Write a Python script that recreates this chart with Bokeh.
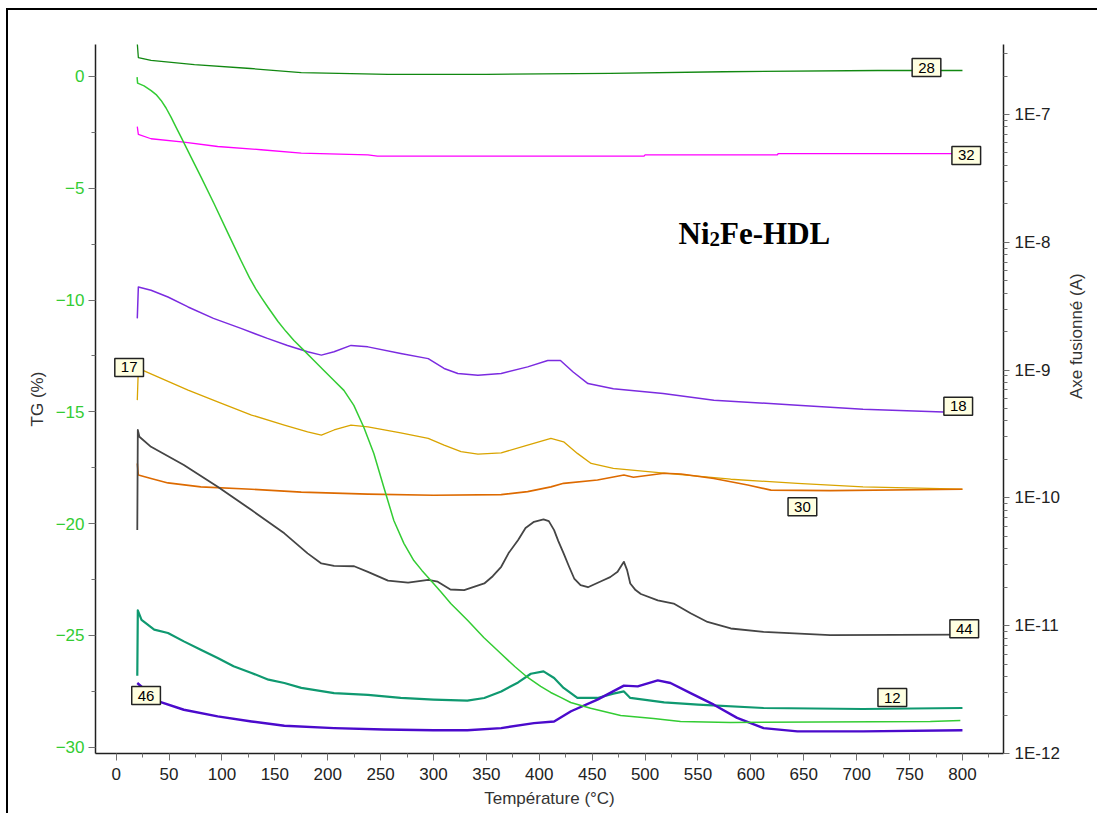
import math
from bokeh.plotting import figure
from bokeh.models import (Range1d, LogScale, LogAxis, FixedTicker,
                          CustomJSTickFormatter, Label)
from bokeh.embed import file_html
from bokeh.resources import INLINE

# ---------------- data ----------------
# TG curve (left axis, %)
tg_temp = [19.8, 20.3, 26.4, 33.1, 37.8, 42.5, 47.2, 51.9, 56.7, 61.4, 70.8, 80.3, 92.5, 105.8,
           118.0, 126.0, 132.0, 137.5, 143.5, 153.0, 160.5, 168.1, 177.5, 187.0, 196.4, 205.9,
           215.3, 224.7, 234.2, 243.6, 253.1, 262.5, 272.0, 281.4, 289.0, 297.5, 306.9, 316.3,
           332.4, 347.5, 363.6, 376.8, 389.0, 401.3, 410.8, 420.2, 429.7, 448.5, 476.9, 508.0,
           533.5, 580.7, 769.6, 798.0]
tg_val = [-0.03, -0.30, -0.42, -0.63, -0.81, -1.07, -1.41, -1.82, -2.28, -2.71, -3.61, -4.50,
          -5.68, -7.02, -8.23, -9.00, -9.50, -9.90, -10.32, -10.96, -11.40, -11.81, -12.25,
          -12.70, -13.15, -13.60, -14.04, -14.71, -15.70, -16.86, -18.38, -19.86, -20.88,
          -21.65, -22.09, -22.54, -23.05, -23.57, -24.33, -25.09, -25.81, -26.39, -26.88,
          -27.28, -27.55, -27.77, -28.00, -28.26, -28.58, -28.71, -28.85, -28.89, -28.85,
          -28.80]

# ion currents (right log axis, A)
m28_temp = [20, 21, 33, 74, 127, 175, 257, 350, 467, 574, 720, 800]
m28_val = [3.6e-7, 2.79e-7, 2.65e-7, 2.46e-7, 2.29e-7, 2.13e-7, 2.06e-7, 2.06e-7, 2.10e-7,
           2.16e-7, 2.21e-7, 2.21e-7]

m32_temp = [20, 21, 33, 64, 96, 137, 175, 238, 247, 499, 500, 625, 626, 800]
m32_val = [8.05e-8, 6.98e-8, 6.46e-8, 6.07e-8, 5.62e-8, 5.30e-8, 4.98e-8, 4.84e-8, 4.72e-8,
           4.72e-8, 4.84e-8, 4.84e-8, 4.95e-8, 4.95e-8]

m18_temp = [20, 21, 33, 49, 68, 92, 118, 143, 162, 181, 194, 206, 222, 238, 269, 295, 310,
            323, 342, 364, 389, 408, 420, 432, 446, 470, 517, 565, 644, 706, 782, 800]
m18_val = [2.54e-9, 4.47e-9, 4.21e-9, 3.73e-9, 3.12e-9, 2.54e-9, 2.12e-9, 1.77e-9, 1.56e-9,
           1.39e-9, 1.31e-9, 1.39e-9, 1.56e-9, 1.52e-9, 1.35e-9, 1.23e-9, 1.03e-9, 9.4e-10,
           9.1e-10, 9.4e-10, 1.06e-9, 1.19e-9, 1.19e-9, 9.66e-10, 7.84e-10, 7.16e-10,
           6.55e-10, 5.81e-10, 5.31e-10, 4.93e-10, 4.70e-10, 4.65e-10]

m17_temp = [20, 21, 68, 96, 128, 159, 181, 194, 206, 222, 238, 269, 295, 310, 326, 342, 364,
            389, 411, 423, 436, 449, 470, 518, 581, 644, 706, 800]
m17_val = [5.82e-10, 1.03e-9, 6.98e-10, 5.65e-10, 4.45e-10, 3.71e-10, 3.29e-10, 3.10e-10,
           3.40e-10, 3.71e-10, 3.60e-10, 3.23e-10, 2.92e-10, 2.59e-10, 2.30e-10, 2.20e-10,
           2.25e-10, 2.59e-10, 2.92e-10, 2.75e-10, 2.23e-10, 1.86e-10, 1.70e-10, 1.56e-10,
           1.40e-10, 1.30e-10, 1.22e-10, 1.17e-10]

m30_temp = [20, 21, 33, 49, 80, 128, 175, 238, 300, 364, 389, 411, 423, 455, 480, 489, 518,
            534, 565, 597, 619, 675, 800]
m30_val = [1.86e-10, 1.51e-10, 1.42e-10, 1.31e-10, 1.22e-10, 1.17e-10, 1.11e-10, 1.07e-10,
           1.05e-10, 1.06e-10, 1.12e-10, 1.22e-10, 1.30e-10, 1.38e-10, 1.51e-10, 1.45e-10,
           1.56e-10, 1.54e-10, 1.42e-10, 1.26e-10, 1.15e-10, 1.14e-10, 1.17e-10]

m44_temp = [20, 20.5, 22, 33, 64, 96, 128, 159, 181, 194, 206, 225, 238, 257, 276, 295, 304,
            316, 329, 348, 356, 364, 371, 380, 387, 395, 404, 409, 414, 418, 423, 428, 433,
            439, 446, 461, 467, 474, 478, 480, 483, 486, 491, 496, 512, 527, 543, 559, 581,
            612, 675, 800]
m44_val = [5.6e-11, 3.4e-10, 3.01e-10, 2.51e-10, 1.81e-10, 1.22e-10, 8.03e-11, 5.28e-11,
           3.68e-11, 3.07e-11, 2.94e-11, 2.92e-11, 2.64e-11, 2.25e-11, 2.17e-11, 2.28e-11,
           2.21e-11, 1.92e-11, 1.90e-11, 2.14e-11, 2.44e-11, 2.89e-11, 3.70e-11, 4.68e-11,
           5.81e-11, 6.50e-11, 6.79e-11, 6.58e-11, 5.60e-11, 4.59e-11, 3.68e-11, 2.92e-11,
           2.34e-11, 2.08e-11, 2.00e-11, 2.28e-11, 2.40e-11, 2.64e-11, 2.98e-11, 3.16e-11,
           2.72e-11, 2.14e-11, 1.90e-11, 1.77e-11, 1.58e-11, 1.49e-11, 1.25e-11, 1.07e-11,
           9.51e-12, 8.95e-12, 8.43e-12, 8.53e-12]

m12_temp = [20, 20.5, 24, 36, 49, 64, 80, 96, 111, 128, 144, 159, 175, 206, 238, 269, 300,
            332, 348, 364, 380, 392, 404, 414, 423, 436, 455, 470, 480, 486, 518, 550, 612,
            706, 800]
m12_val = [4.06e-12, 1.32e-11, 1.11e-11, 9.31e-12, 8.77e-12, 7.54e-12, 6.49e-12, 5.59e-12,
           4.81e-12, 4.27e-12, 3.78e-12, 3.56e-12, 3.26e-12, 2.97e-12, 2.88e-12, 2.72e-12,
           2.64e-12, 2.59e-12, 2.72e-12, 3.06e-12, 3.60e-12, 4.21e-12, 4.39e-12, 3.90e-12,
           3.26e-12, 2.72e-12, 2.72e-12, 2.94e-12, 3.06e-12, 2.72e-12, 2.51e-12, 2.41e-12,
           2.27e-12, 2.23e-12, 2.27e-12]

m46_temp = [20, 40, 64, 96, 128, 159, 206, 253, 300, 332, 364, 395, 414, 430, 455, 480, 493,
            512, 524, 543, 565, 587, 612, 644, 706, 800]
m46_val = [3.56e-12, 2.56e-12, 2.20e-12, 1.95e-12, 1.78e-12, 1.65e-12, 1.58e-12, 1.54e-12,
           1.52e-12, 1.52e-12, 1.58e-12, 1.73e-12, 1.78e-12, 2.14e-12, 2.64e-12, 3.40e-12,
           3.35e-12, 3.73e-12, 3.56e-12, 2.97e-12, 2.41e-12, 1.90e-12, 1.58e-12, 1.49e-12,
           1.49e-12, 1.52e-12]

# tags: (text, temperature, current)
tag_text = ["28", "32", "18", "17", "30", "44", "12", "46"]
tag_temp = [766, 803.6, 796, 12.3, 648.7, 801.7, 733.7, 28.3]
tag_curr = [2.33e-7, 4.78e-8, 5.22e-10, 1.05e-9, 8.51e-11, 9.47e-12, 2.74e-12, 2.84e-12]

x_major = list(range(0, 801, 50))
x_minor = list(range(25, 826, 50))
tg_major = [-30, -25, -20, -15, -10, -5, 0]
tg_minor = [-27.5, -22.5, -17.5, -12.5, -7.5, -2.5]
ms_major = [1e-12, 1e-11, 1e-10, 1e-9, 1e-8, 1e-7]
ms_minor = [k * 10.0 ** e for e in range(-12, -6) for k in range(2, 10) if k * 10.0 ** e < 3.5e-7]

# ---------------- figure ----------------
TG_GREEN = "#33CC33"
FONT = "Liberation Sans"

p = figure(width=1091, height=805, output_backend="svg", toolbar_location=None,
           x_range=Range1d(-19.5, 838.8), y_range=Range1d(-30.28, 1.43),
           min_border_left=87, min_border_right=96, min_border_top=34, min_border_bottom=62)
p.styles = {"border-left": "2px solid #000", "border-top": "2px solid #000",
            "margin-left": "6px", "margin-top": "8px"}
p.outline_line_color = None
p.xgrid.visible = False
p.ygrid.visible = False
p.background_fill_color = "white"
p.border_fill_color = "white"

p.extra_y_ranges = {"ms": Range1d(1e-12, 3.53e-7)}
p.extra_y_scales = {"ms": LogScale()}

def style_axis(ax):
    ax.axis_line_color = "#202020"
    ax.axis_line_width = 1.5
    ax.major_tick_line_color = "#707070"
    ax.minor_tick_line_color = "#707070"
    ax.major_tick_in = 0
    ax.minor_tick_in = 0
    ax.major_tick_out = 7
    ax.minor_tick_out = 4
    ax.major_label_text_font = FONT
    ax.major_label_text_font_size = "17px"
    ax.major_label_text_color = "#222222"
    ax.axis_label_text_font = FONT
    ax.axis_label_text_font_size = "17px"
    ax.axis_label_text_font_style = "normal"
    ax.axis_label_text_color = "#333333"

xa = p.xaxis[0]
style_axis(xa)
xa.ticker = FixedTicker(ticks=x_major, minor_ticks=x_minor)
xa.axis_label = "Température (°C)"
xa.major_label_standoff = 7
xa.axis_label_standoff = 6

ya = p.yaxis[0]
style_axis(ya)
ya.ticker = FixedTicker(ticks=tg_major, minor_ticks=tg_minor)
ya.axis_label = "TG (%)"
ya.major_label_text_color = TG_GREEN
ya.major_label_standoff = 4
ya.axis_label_standoff = 6

ra = LogAxis(y_range_name="ms")
style_axis(ra)
ra.ticker = FixedTicker(ticks=ms_major, minor_ticks=ms_minor)
ra.formatter = CustomJSTickFormatter(code='return "1E" + Math.round(Math.log10(tick)).toString();')
ra.major_label_standoff = 5
ra.major_tick_out = 6
ra.axis_label = "Axe fusionné (A)"
ra.axis_label_standoff = 14
try:
    ra.axis_label_orientation = math.pi / 2
except Exception:
    pass
p.add_layout(ra, "right")

# ---------------- curves ----------------
series = [
    (m28_temp, m28_val, "#118811", 1.3),
    (m32_temp, m32_val, "#FF00FF", 1.3),
    (m18_temp, m18_val, "#7B2BE0", 1.5),
    (m17_temp, m17_val, "#D9A400", 1.3),
    (m30_temp, m30_val, "#DD6A00", 1.6),
    (m44_temp, m44_val, "#454545", 1.8),
    (m12_temp, m12_val, "#0F9970", 2.2),
    (m46_temp, m46_val, "#4B0ACC", 2.4),
]
for t, v, c, w in series:
    p.line(t, v, line_color=c, line_width=w, y_range_name="ms", line_join="round")

p.line(tg_temp, tg_val, line_color=TG_GREEN, line_width=1.5, line_join="round")

# ---------------- tags ----------------
for txt, tx, ty in zip(tag_text, tag_temp, tag_curr):
    p.add_layout(Label(x=tx, y=ty, y_range_name="ms", text=txt, text_font=FONT,
                       text_font_size="15px", text_color="black",
                       text_align="center", text_baseline="middle",
                       background_fill_color="#FFFFE1", border_line_color="#222222",
                       border_line_width=1.5, padding=(6, 4)))

# ---------------- title text ----------------
title_x, title_y = 531.6, -7.02
p.add_layout(Label(x=title_x, y=title_y, text="Ni", text_font="Liberation Serif",
                   text_font_size="31px", text_font_style="bold", text_color="black",
                   text_baseline="alphabetic"))
p.add_layout(Label(x=title_x, y=title_y, x_offset=31, y_offset=-6, text="2",
                   text_font="Liberation Serif", text_font_size="21px",
                   text_font_style="bold", text_color="black", text_baseline="alphabetic"))
p.add_layout(Label(x=title_x, y=title_y, x_offset=41.5, text="Fe-HDL",
                   text_font="Liberation Serif", text_font_size="31px",
                   text_font_style="bold", text_color="black", text_baseline="alphabetic"))

open("out.html", "w").write(file_html(p, INLINE))
